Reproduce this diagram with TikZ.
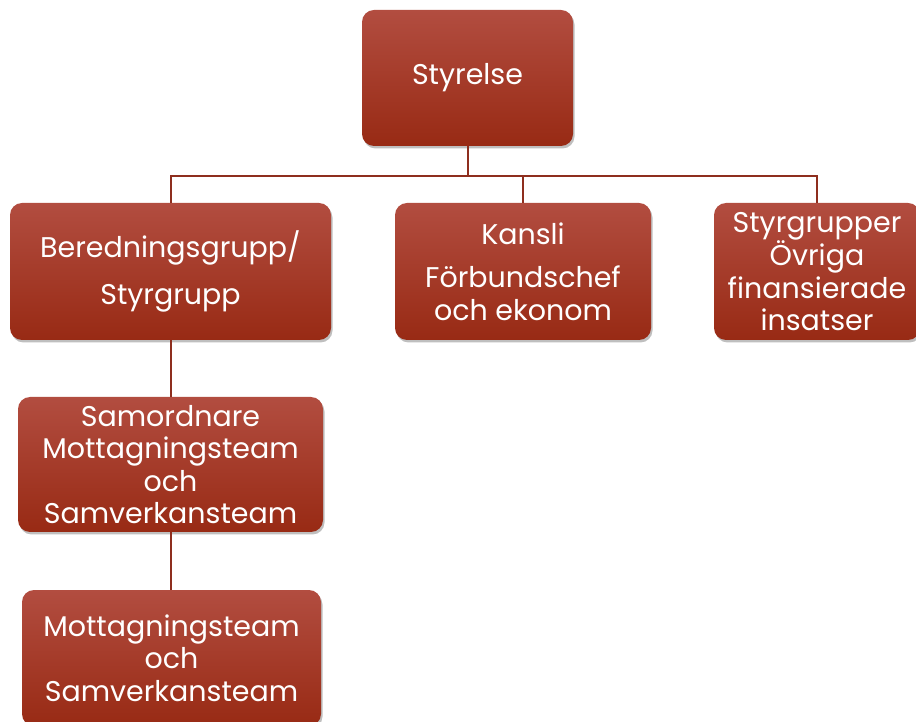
\documentclass[tikz,border=0pt]{standalone}
\usepackage{fontspec}
\setmainfont{Poppins}
\usetikzlibrary{shadows}
\definecolor{boxtop}{HTML}{B24D40}
\definecolor{boxbot}{HTML}{982A14}
\definecolor{linkc}{HTML}{8E2E1E}
\tikzset{
  orgbox/.style={rectangle, rounded corners=12pt, top color=boxtop, bottom color=boxbot,
    text=white, align=center, inner sep=0pt,
    font=\fontsize{28.5}{32.5}\selectfont,
    drop shadow={shadow xshift=1.5pt, shadow yshift=-2.5pt, opacity=0.25, fill=black}},
  link/.style={draw=linkc, line width=2pt}
}
\begin{document}
\begin{tikzpicture}[x=1pt,y=1pt]
\useasboundingbox (0,0) rectangle (916,721);
\node[orgbox, minimum width=211pt, minimum height=136pt] (sty) at (467.5,643) {Styrelse};
\node[orgbox, minimum width=321pt, minimum height=137pt] (ber) at (170.5,449.5) {Beredningsgrupp/\\[15pt]Styrgrupp};
\node[orgbox, minimum width=256pt, minimum height=137pt] (kan) at (523,449.5) {Kansli\\[11pt]Förbundschef\\och ekonom};
\node[orgbox, minimum width=206pt, minimum height=137pt] (ovr) at (817,449.5) {Styrgrupper\\Övriga\\finansierade\\insatser};
\node[orgbox, minimum width=305pt, minimum height=135pt] (sam) at (170.5,256.5) {Samordnare\\Mottagningsteam\\och\\Samverkansteam};
\node[orgbox, minimum width=299pt, minimum height=136pt] (mot) at (171.5,63) {Mottagningsteam\\och\\Samverkansteam};
\coordinate (bar) at (467.5,545);
\draw[link] (sty.south) -- (bar);
\draw[link] (ber.north) |- (bar) -| (ovr.north);
\draw[link] (bar) -| (kan.north);
\draw[link] (ber.south) -- (sam.north);
\draw[link] (sam.south) -- (sam.south |- mot.north);
\end{tikzpicture}
\end{document}
